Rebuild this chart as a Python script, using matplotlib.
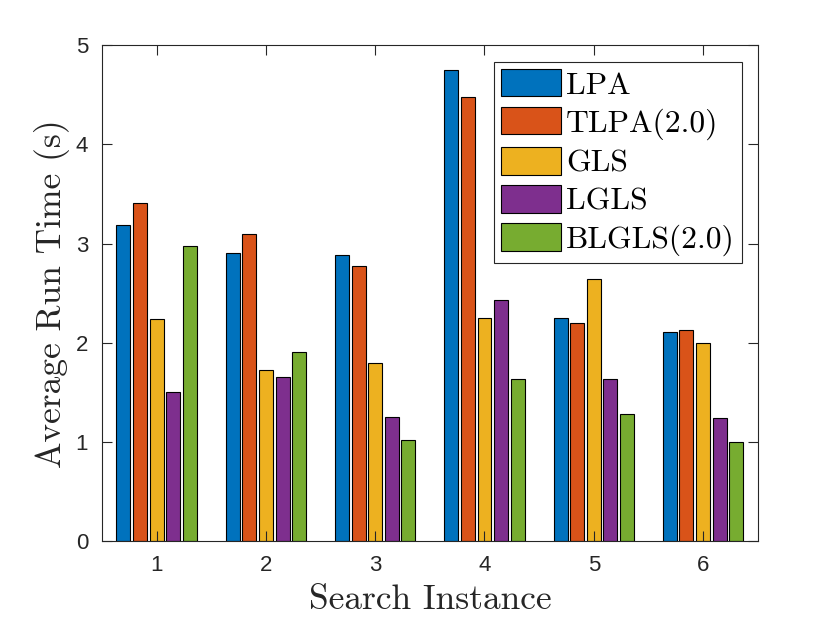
import numpy as np
import matplotlib
matplotlib.use("Agg")
import matplotlib.pyplot as plt

instances = [1, 2, 3, 4, 5, 6]
methods = ["LPA", "TLPA(2.0)", "GLS", "LGLS", "BLGLS(2.0)"]
lpa = [3.19, 2.90, 2.88, 4.75, 2.25, 2.11]
tlpa = [3.41, 3.10, 2.77, 4.48, 2.20, 2.13]
gls = [2.24, 1.72, 1.80, 2.25, 2.64, 2.00]
lgls = [1.50, 1.65, 1.25, 2.43, 1.63, 1.24]
blgls = [2.98, 1.91, 1.02, 1.63, 1.28, 1.00]

colors = ["#0072BD", "#D95319", "#EDB120", "#7E2F8E", "#77AC30"]
series = [lpa, tlpa, gls, lgls, blgls]

fig = plt.figure(figsize=(8.3, 6.23), dpi=100)
ax = fig.add_axes([0.1229, 0.1316, 0.79, 0.7957])

x = np.array(instances, dtype=float)
step = 0.152
for k, (vals, name, c) in enumerate(zip(series, methods, colors)):
    ax.bar(x + (k - 2) * step, vals, width=0.128, color=c,
           edgecolor="black", linewidth=0.8, label=name)

ax.set_xlim(0.5, 6.5)
ax.set_ylim(0, 5)
ax.set_xticks(instances)
ax.set_yticks([0, 1, 2, 3, 4, 5])

axcol = "#262626"
for s in ax.spines.values():
    s.set_color(axcol)
    s.set_linewidth(0.8)
ax.tick_params(direction="in", length=7, width=0.8, color=axcol,
               top=True, right=True, labelsize=16, labelcolor=axcol, pad=10)
for lab in ax.get_xticklabels() + ax.get_yticklabels():
    lab.set_family("Liberation Sans")

ax.set_xlabel("Search Instance", family="cmr10", fontsize=25.5, color=axcol, labelpad=6)
ax.set_ylabel("Average Run Time (s)", family="cmr10", fontsize=25.5, color=axcol, labelpad=4)

leg = ax.legend(loc="upper right", bbox_to_anchor=(0.9756, 0.9657), borderaxespad=0,
                prop={"family": "cmr10", "size": 22.7}, fancybox=False, framealpha=1,
                edgecolor=axcol, handlelength=1.9, handleheight=0.95,
                handletextpad=0.15, borderpad=0.22, labelspacing=0.24)
leg.get_frame().set_linewidth(0.8)

fig.savefig("out.png", dpi=100)
